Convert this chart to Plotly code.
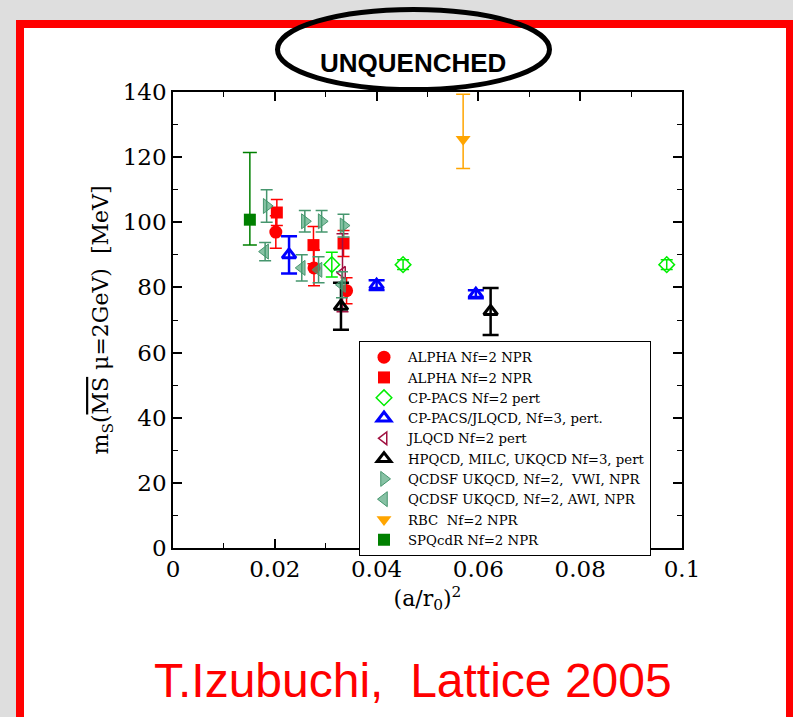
import plotly.graph_objects as go

# ---------------- data ----------------
alpha_c_x = [0.0202, 0.0277, 0.0341]
alpha_c_y = [97.0, 86.0, 79.0]
alpha_c_e = [5.0, 5.5, 4.0]

alpha_s_x = [0.0204, 0.0276, 0.0335]
alpha_s_y = [103.0, 93.0, 93.5]
alpha_s_e = [4.0, 5.7, 4.0]

cppacs2_x = [0.0312, 0.0452, 0.0970]
cppacs2_y = [87.0, 87.0, 87.0]
cppacs2_e = [3.8, 1.5, 1.5]

cppacs3_x = [0.0228, 0.0400, 0.0595]
cppacs3_y = [90.0, 80.7, 77.9]
cppacs3_e = [5.7, 1.5, 1.2]

jlqcd_x = [0.0333]
jlqcd_y = [84.5]
jlqcd_e = [12.0]

hpqcd_x = [0.0330, 0.0624]
hpqcd_y = [74.2, 72.6]
hpqcd_e = [7.2, 7.2]

qvwi_x = [0.0184, 0.0259, 0.0292, 0.0335]
qvwi_y = [105.0, 100.3, 100.3, 99.0]
qvwi_e = [5.0, 3.3, 3.3, 3.5]

qawi_x = [0.0181, 0.0253, 0.0286, 0.0332]
qawi_y = [91.0, 86.0, 85.4, 80.8]
qawi_e = [2.8, 4.0, 4.0, 4.0]

rbc_x = [0.0570]
rbc_y = [125.5]
rbc_ep = [13.8]
rbc_em = [9.0]

spq_x = [0.0151]
spq_y = [100.8]
spq_ep = [20.6]
spq_em = [7.8]

legend_names = [
    "ALPHA Nf=2 NPR",
    "ALPHA Nf=2 NPR",
    "CP-PACS Nf=2 pert",
    "CP-PACS/JLQCD, Nf=3, pert.",
    "JLQCD Nf=2 pert",
    "HPQCD, MILC, UKQCD Nf=3, pert",
    "QCDSF UKQCD, Nf=2,  VWI, NPR",
    "QCDSF UKQCD, Nf=2, AWI, NPR",
    "RBC  Nf=2 NPR",
    "SPQcdR Nf=2 NPR",
]

x_ticks = [0, 0.02, 0.04, 0.06, 0.08, 0.1]
x_tick_text = ["0", "0.02", "0.04", "0.06", "0.08", "0.1"]
y_ticks = [0, 20, 40, 60, 80, 100, 120, 140]

SERIF = "DejaVu Serif"
QCOL = "rgba(70,160,115,0.65)"
QLINE = "rgb(70,150,110)"

fig = go.Figure()


def add(name, x, y, ep, em, symbol, size, color, lw=0, lcolor=None, ecolor=None, ew=1.5, cap=6):
    fig.add_trace(go.Scatter(
        x=x, y=y, mode="markers", name=name,
        marker=dict(symbol=symbol, size=size, color=color,
                    line=dict(width=lw, color=lcolor or color)),
        error_y=dict(type="data", array=ep, arrayminus=em, symmetric=False,
                     color=ecolor or color, thickness=ew, width=cap),
    ))


add(legend_names[0], alpha_c_x, alpha_c_y, alpha_c_e, alpha_c_e, "circle", 13, "#ff0000")
add(legend_names[1], alpha_s_x, alpha_s_y, alpha_s_e, alpha_s_e, "square", 12, "#ff0000")
add(legend_names[2], cppacs2_x, cppacs2_y, cppacs2_e, cppacs2_e, "diamond-open", 12, "#00ee00", lw=1.5)
add(legend_names[3], cppacs3_x, cppacs3_y, cppacs3_e, cppacs3_e, "triangle-up-open", 12, "#0000ff", lw=3, ew=2.5, cap=8)
add(legend_names[4], jlqcd_x, jlqcd_y, jlqcd_e, jlqcd_e, "triangle-left-open", 11, "#a01040", lw=1.5)
add(legend_names[5], hpqcd_x, hpqcd_y, hpqcd_e, hpqcd_e, "triangle-up-open", 12, "#000000", lw=3, ew=2.5, cap=8)
add(legend_names[6], qvwi_x, qvwi_y, qvwi_e, qvwi_e, "triangle-right", 13, QCOL, lw=1, lcolor=QLINE, ecolor=QLINE)
add(legend_names[7], qawi_x, qawi_y, qawi_e, qawi_e, "triangle-left", 13, QCOL, lw=1, lcolor=QLINE, ecolor=QLINE)
add(legend_names[8], rbc_x, rbc_y, rbc_ep, rbc_em, "triangle-down", 13, "#ffa500", cap=7)
add(legend_names[9], spq_x, spq_y, spq_ep, spq_em, "square", 12, "#008000", cap=7)

# geometry helpers (pixel -> paper) for decorations
L, R, T, B = 173, 111, 92, 169
W, H = 793, 717
PW, PH = W - L - R, H - T - B


def px(v):
    return (v - L) / PW


def py(v):
    return (H - B - v) / PH


shapes = [
    # red slide frame
    dict(type="rect", xref="paper", yref="paper", layer="below",
         x0=px(20), x1=px(790), y0=py(722), y1=py(24),
         line=dict(color="#ff0000", width=8), fillcolor="white"),
    # ellipse
    dict(type="circle", xref="paper", yref="paper", layer="above",
         x0=px(277.5), x1=px(549.5), y0=py(89.5), y1=py(9.5),
         line=dict(color="black", width=5)),
]

annotations = [
    dict(text="<b>UNQUENCHED</b>", xref="paper", yref="paper", x=px(412.5), y=py(63),
         showarrow=False, font=dict(family="Liberation Sans, Arial", size=26, color="black"),
         xanchor="center", yanchor="middle"),
    dict(text="T.Izubuchi,  Lattice 2005", xref="paper", yref="paper", x=px(412.5), y=py(680),
         showarrow=False, font=dict(family="Liberation Sans, Arial", size=48, color="#ff0000"),
         xanchor="center", yanchor="middle"),
]

axis_common = dict(
    showgrid=False, zeroline=False, showline=True, linecolor="black", linewidth=1.5,
    mirror="ticks", ticks="inside", ticklen=9, tickwidth=1.5, tickcolor="black",
    tickfont=dict(family=SERIF, size=23, color="black"),
)

fig.update_layout(
    width=W, height=H,
    margin=dict(l=L, r=R, t=T, b=B, pad=0),
    paper_bgcolor="#dedede", plot_bgcolor="white",
    shapes=shapes, annotations=annotations,
    xaxis=dict(range=[0, 0.1], tickvals=x_ticks, ticktext=x_tick_text,
               minor=dict(dtick=0.01, ticks="inside", ticklen=5, tickwidth=1.2, tickcolor="black"),
               title=dict(text="(a/r<sub>0</sub>)<sup>2</sup>", font=dict(family=SERIF, size=22, color="black"),
                          standoff=9),
               **axis_common),
    yaxis=dict(range=[0, 140], tickvals=y_ticks,
               minor=dict(dtick=10, ticks="inside", ticklen=5, tickwidth=1.2, tickcolor="black"),
               title=dict(text="m<sub>S</sub>(<span style='text-decoration:overline'>MS</span> μ=2GeV)  [MeV]",
                          font=dict(family=SERIF, size=22, color="black"), standoff=8),
               **axis_common),
    showlegend=True,
    legend=dict(x=px(359), y=py(341), xanchor="left", yanchor="top",
                bgcolor="white", bordercolor="black", borderwidth=1,
                font=dict(family=SERIF, size=13.3, color="black"),
                itemwidth=38, tracegroupgap=0),
)

fig.write_html("out.html")
